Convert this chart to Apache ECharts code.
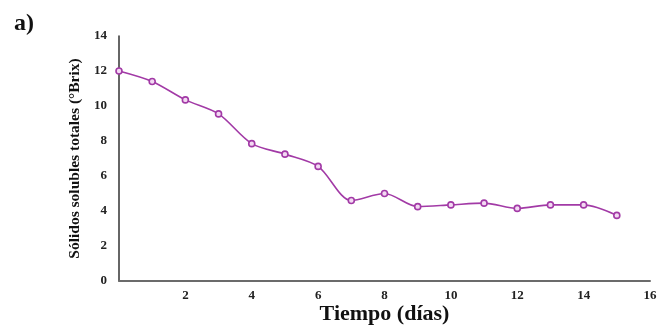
<!DOCTYPE html>
<html>
<head>
<meta charset="utf-8">
<script src="https://cdn.jsdelivr.net/npm/echarts@6/dist/echarts.min.js"></script>
<style>
  html, body { margin: 0; padding: 0; background: #fff; }
  #chart { width: 658px; height: 326px; }
</style>
</head>
<body>
<div id="chart"></div>
<script>
// dias de almacenamiento y solidos solubles totales (°Brix)
var dias = [0, 1, 2, 3, 4, 5, 6, 7, 8, 9, 10, 11, 12, 13, 14, 15];
var brix = [12.0, 11.4, 10.35, 9.55, 7.85, 7.25, 6.55, 4.6, 5.0, 4.25, 4.35, 4.45, 4.15, 4.35, 4.35, 3.75];

var serif = '"Liberation Serif", "DejaVu Serif", serif';
var morado = '#a23aa6';

var chart = echarts.init(document.getElementById('chart'));
var puntos = dias.map(function (d, i) { return [d, brix[i]]; });

chart.setOption({
	animation: false,
	title: {
		text: 'a)',
		left: 9,
		top: 7,
		textStyle: { fontFamily: serif, fontWeight: 'bold', fontSize: 24, color: '#111' }
	},
	grid: { left: 119, right: 8, top: 36, bottom: 45, outerBoundsMode: 'none' },
	xAxis: {
		type: 'value',
		min: 0,
		max: 16,
		interval: 2,
		name: 'Tiempo (días)',
		nameLocation: 'middle',
		nameGap: 22,
		nameMoveOverlap: false,
		nameTextStyle: { fontFamily: serif, fontWeight: 'bold', fontSize: 22, color: '#111' },
		axisLine: { lineStyle: { color: '#6b6b6b', width: 2 } },
		axisTick: { show: false },
		splitLine: { show: false },
		axisLabel: {
			showMinLabel: false,
			margin: 8,
			fontFamily: serif, fontWeight: 'bold', fontSize: 13, color: '#222'
		}
	},
	yAxis: {
		type: 'value',
		min: 0,
		max: 14,
		interval: 2,
		name: 'Sólidos solubles totales (°Brix)',
		nameLocation: 'middle',
		nameGap: 36,
		nameMoveOverlap: false,
		nameTextStyle: { fontFamily: serif, fontWeight: 'bold', fontSize: 15.5, color: '#111' },
		axisLine: { show: true, lineStyle: { color: '#333', width: 1.5 } },
		axisTick: { show: false },
		splitLine: { show: false },
		axisLabel: {
			margin: 12,
			fontFamily: serif, fontWeight: 'bold', fontSize: 13, color: '#222'
		}
	},
	series: [{
		type: 'line',
		data: puntos,
		smooth: 0.3,
		symbol: 'circle',
		symbolSize: 6,
		lineStyle: { color: morado, width: 1.6 },
		itemStyle: { color: '#f3d9f3', borderColor: morado, borderWidth: 1.6 }
	}]
});
</script>
</body>
</html>
